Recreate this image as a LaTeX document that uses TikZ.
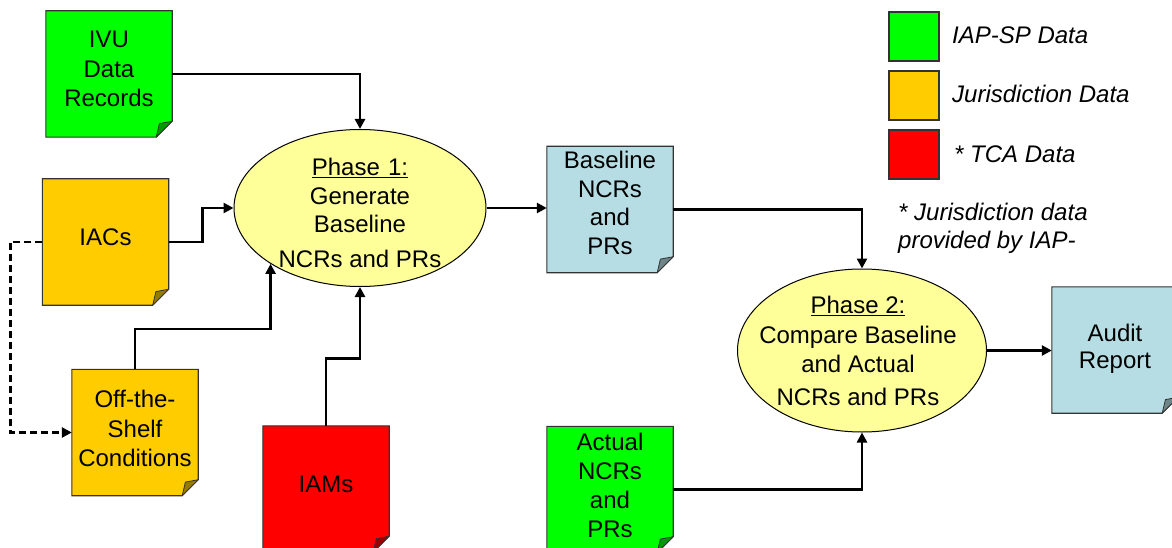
\documentclass[tikz,border=0pt]{standalone}
\usepackage{fontspec}
\setmainfont{Liberation Sans}
\usetikzlibrary{shapes.geometric,arrows.meta}

\definecolor{spgreen}{HTML}{00FF00}
\definecolor{jurorange}{HTML}{FFCC00}
\definecolor{tcared}{HTML}{FF0000}
\definecolor{outblue}{HTML}{B6DDE3}
\definecolor{phaseyellow}{HTML}{FFFF99}
\definecolor{edgegray}{HTML}{333333}

\newlength\foldcut
\setlength\foldcut{16pt}

% page with a folded bottom-right corner, drawn over an empty node
\newcommand\pagefill[2]{%
  \filldraw[fill=#2, draw=edgegray, line width=1.1pt]
    (#1.north west) -- (#1.north east) -- ([yshift=\foldcut]#1.south east)
    -- ([xshift=-\foldcut]#1.south east) -- (#1.south west) -- cycle;
  \filldraw[fill=#2!60!black, draw=edgegray, line width=0.8pt, line join=round]
    ([yshift=\foldcut]#1.south east) -- ([xshift=-\foldcut]#1.south east)
    -- ([xshift=-0.8\foldcut,yshift=0.85\foldcut]#1.south east) -- cycle;
}

\tikzset{
  doc/.style={rectangle, minimum width=126pt, minimum height=126pt, inner sep=0pt},
  doctext/.style={anchor=north, inner sep=0pt, align=center, font=\fontsize{24}{29.5}\selectfont},
  phase/.style={ellipse, draw=black, line width=1pt, fill=phaseyellow, inner sep=0pt},
  conn/.style={line width=2.7pt, -{Triangle[length=10pt,width=10pt]}},
  dashconn/.style={line width=2.5pt, dash pattern=on 7pt off 4pt, -{Triangle[length=10pt,width=10pt]}},
  legsq/.style={rectangle, draw=edgegray, line width=1.1pt, minimum width=50pt, minimum height=49pt, inner sep=0pt},
  legtext/.style={inner sep=0pt, font=\fontsize{24}{27.5}\selectfont\itshape},
}

\begin{document}
\begin{tikzpicture}[x=1pt,y=-1pt]
\useasboundingbox (0,0) rectangle (1172,548);
\clip (0,0) rectangle (1172,548);

% data pages
\node[doc] (ivu) at (109,74) {};
\node[doc] (iacs) at (105.5,242) {};
\node[doc] (ots) at (135,432.5) {};
\node[doc] (iams) at (326,489) {};
\node[doc] (base) at (610,209.5) {};
\node[doc] (act) at (610,489.5) {};
\node[doc] (audit) at (1115,350) {};
\pagefill{ivu}{spgreen}
\pagefill{iacs}{jurorange}
\pagefill{ots}{jurorange}
\pagefill{iams}{tcared}
\pagefill{base}{outblue}
\pagefill{act}{spgreen}
\pagefill{audit}{outblue}

% processing phases
\node[phase, minimum width=252pt, minimum height=157pt] (p1) at (360,208) {};
\node[phase, minimum width=249pt, minimum height=163pt] (p2) at (862,350.5) {};

% labels
\node[doctext] (ivu-t) at (109,31) {IVU\\Data\\Records};
\node[doctext] (iacs-t) at (105.5,229) {IACs};
\node[doctext] (ots-t) at (135,390) {Off-the-\\Shelf\\Conditions};
\node[doctext] (iams-t) at (326,476) {IAMs};
\node[doctext, font=\fontsize{24}{28.5}\selectfont] (base-t) at (610,151) {Baseline\\NCRs\\and\\PRs};
\node[doctext, font=\fontsize{24}{29}\selectfont] (act-t) at (610,433) {Actual\\NCRs\\and\\PRs};
\node[doctext, font=\fontsize{24}{26.5}\selectfont] (audit-t) at (1115,324) {Audit\\Report};
\node[doctext, font=\fontsize{24}{28.5}\selectfont] (p1-t) at (360,158)
  {\underline{Phase\hspace{1.5pt} 1:}\\Generate\\Baseline\\[6pt]NCRs and PRs};
\node[doctext, font=\fontsize{24}{29.5}\selectfont] (p2-t) at (858,296)
  {\underline{Phase 2:}\\Compare Baseline\\and Actual\\[3.5pt]NCRs and PRs};

% legend
\node[legsq, fill=spgreen] (lg1) at (914,36.5) {};
\node[legsq, fill=jurorange] (lg2) at (914,95.5) {};
\node[legsq, fill=tcared] (lg3) at (914,154.5) {};
\node[legtext, anchor=base west] (lg1-t) at (952,44) {IAP-SP Data};
\node[legtext, anchor=base west] (lg2-t) at (952,103) {Jurisdiction Data};
\node[legtext, anchor=base west] (lg3-t) at (954,163) {* TCA Data};
\node[legtext, anchor=north west, align=left] (note) at (898,203) {* Jurisdiction data\\provided by IAP-};

% connectors
\coordinate (otsbend) at (0,329);
\draw[conn] (ivu.east) -| (p1.north);
\draw[conn] (iacs.east) -- ++(34,0) |- (p1.west);
\draw[dashconn] (iacs.west) -- ++(-32,0) |- (ots.west);
\draw[conn] (ots.north) |- (p1.212 |- otsbend) -- (p1.212);
\draw[conn] (iams.north) -- ++(0,-67) -| (p1.south);
\draw[conn] (p1.east) -- (p1.east -| base.west);
\draw[conn] (base.east) -| (p2.north);
\draw[conn] (act.east) -| (p2.south);
\draw[conn] (p2.east) -- (p2.east -| audit.west);
\end{tikzpicture}
\end{document}
